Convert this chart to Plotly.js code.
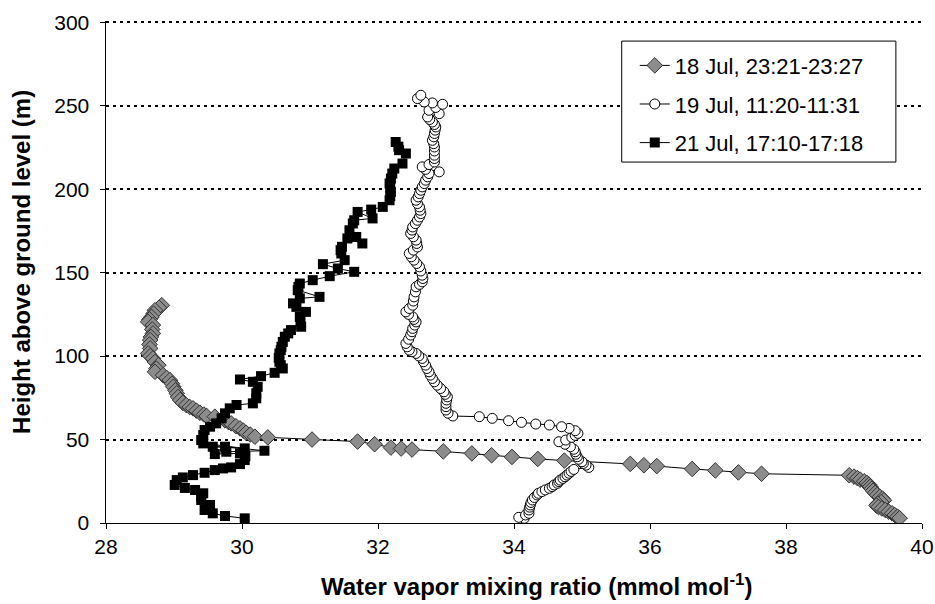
<!DOCTYPE html>
<html>
<head>
<meta charset="utf-8">
<script src="https://cdn.plot.ly/plotly-3.0.1.min.js"></script>
<style>
  html, body { margin: 0; padding: 0; background: #fff; }
  #chart { width: 935px; height: 604px; }
</style>
</head>
<body>
<div id="chart"></div>
<script>
// Profile 1: 18 Jul, 23:21-23:27 (height in m, mixing ratio in mmol/mol)
const height1 = [130.5, 129.0, 127.5, 125.5, 123.5, 122.0, 120.5, 118.6, 116.0, 113.6, 111.5, 109.6, 107.0, 104.6, 101.6, 100.0, 98.6, 96.5, 94.6, 92.5, 90.6, 88.6, 87.0, 85.6, 83.5, 81.6, 79.5, 77.7, 75.5, 73.7, 72.0, 70.7, 69.5, 68.7, 67.3, 66.1, 65.0, 64.1, 63.7, 61.5, 60.5, 59.7, 58.0, 56.7, 55.3, 54.1, 53.0, 51.7, 51.3, 50.0, 48.8, 47.2, 45.2, 44.6, 44.0, 42.9, 41.7, 40.6, 39.6, 38.4, 37.4, 35.4, 34.6, 34.1, 32.4, 31.5, 30.3, 29.5, 28.6, 27.8, 26.9, 26.0, 25.0, 24.0, 23.0, 21.8, 20.5, 19.3, 18.0, 16.8, 15.7, 14.6, 13.6, 12.5, 11.5, 10.5, 9.6, 8.7, 7.8, 6.8, 5.8, 4.8, 3.8, 2.9];
const ratio1 = [28.82, 28.78, 28.72, 28.70, 28.67, 28.64, 28.62, 28.69, 28.68, 28.69, 28.66, 28.65, 28.64, 28.65, 28.62, 28.65, 28.69, 28.72, 28.77, 28.74, 28.72, 28.84, 28.89, 28.94, 28.97, 28.99, 29.02, 29.04, 29.06, 29.09, 29.13, 29.18, 29.23, 29.28, 29.33, 29.38, 29.44, 29.48, 29.60, 29.75, 29.80, 29.84, 29.91, 29.97, 30.02, 30.06, 30.12, 30.19, 30.38, 31.03, 31.70, 31.95, 32.19, 32.34, 32.50, 32.96, 33.38, 33.67, 33.97, 34.35, 34.74, 35.71, 35.91, 36.10, 36.62, 36.96, 37.30, 37.64, 38.93, 39.00, 39.05, 39.09, 39.15, 39.19, 39.22, 39.24, 39.26, 39.28, 39.31, 39.34, 39.38, 39.42, 39.44, 39.40, 39.35, 39.33, 39.36, 39.41, 39.46, 39.51, 39.56, 39.60, 39.64, 39.67];

// Profile 2: 19 Jul, 11:20-11:31
const height2 = [2.8, 3.4, 4.8, 5.8, 7.8, 9.5, 10.8, 12.3, 13.8, 15.3, 16.8, 17.8, 18.8, 19.8, 20.8, 21.8, 22.8, 23.8, 24.8, 25.7, 26.7, 27.7, 28.7, 29.8, 30.9, 32.1, 33.3, 34.7, 35.7, 36.7, 38.2, 39.7, 41.2, 42.7, 44.2, 45.7, 47.2, 48.7, 49.7, 51.3, 52.5, 53.7, 55.3, 56.7, 57.7, 58.7, 59.3, 60.3, 61.3, 62.7, 63.7, 64.1, 65.8, 67.7, 69.7, 71.7, 73.7, 75.6, 77.1, 78.6, 80.6, 82.6, 84.6, 86.6, 88.6, 90.6, 92.6, 94.6, 96.6, 98.6, 100.1, 101.6, 102.6, 103.6, 105.6, 107.6, 110.1, 112.6, 114.6, 116.6, 118.6, 120.5, 122.0, 123.5, 125.0, 126.5, 128.5, 130.5, 133.0, 135.5, 138.5, 141.5, 143.0, 144.5, 146.5, 148.5, 151.0, 153.5, 155.5, 157.5, 159.5, 161.5, 163.5, 165.4, 167.5, 169.5, 171.5, 173.5, 175.5, 177.4, 179.4, 181.4, 183.4, 185.4, 187.4, 189.4, 191.4, 193.4, 195.4, 197.4, 199.4, 201.4, 203.4, 205.4, 207.4, 209.4, 210.4, 211.9, 213.4, 214.8, 216.3, 218.4, 220.4, 222.9, 225.3, 227.3, 229.3, 231.4, 233.4, 235.4, 237.3, 238.8, 240.3, 241.8, 243.3, 245.3, 247.3, 249.0, 250.9, 251.7, 252.3, 254.3, 256.3];
const ratio2 = [34.15, 34.07, 34.17, 34.22, 34.22, 34.23, 34.24, 34.25, 34.27, 34.30, 34.34, 34.36, 34.41, 34.46, 34.52, 34.56, 34.59, 34.64, 34.66, 34.68, 34.72, 34.75, 34.78, 34.81, 34.84, 34.88, 35.10, 35.06, 35.02, 35.00, 34.95, 34.93, 34.91, 34.90, 34.88, 34.83, 34.75, 34.66, 34.76, 34.85, 34.90, 34.94, 34.90, 34.81, 34.70, 34.52, 34.32, 34.11, 33.92, 33.68, 33.49, 33.10, 33.03, 33.00, 33.00, 33.00, 33.01, 33.02, 32.99, 32.97, 32.92, 32.87, 32.83, 32.80, 32.77, 32.75, 32.72, 32.70, 32.67, 32.65, 32.60, 32.56, 32.50, 32.46, 32.43, 32.41, 32.45, 32.48, 32.50, 32.51, 32.54, 32.56, 32.53, 32.51, 32.45, 32.41, 32.46, 32.51, 32.52, 32.53, 32.55, 32.56, 32.61, 32.65, 32.66, 32.65, 32.63, 32.61, 32.57, 32.53, 32.49, 32.46, 32.52, 32.58, 32.57, 32.56, 32.52, 32.48, 32.50, 32.51, 32.55, 32.58, 32.61, 32.63, 32.62, 32.61, 32.58, 32.56, 32.59, 32.61, 32.63, 32.65, 32.68, 32.70, 32.73, 32.75, 32.90, 32.70, 32.65, 32.75, 32.83, 32.83, 32.83, 32.83, 32.83, 32.82, 32.80, 32.82, 32.83, 32.84, 32.85, 32.83, 32.80, 32.76, 32.73, 32.90, 32.75, 32.85, 32.95, 32.80, 32.68, 32.58, 32.63];

// Profile 3: 21 Jul, 17:10-17:18
const height3 = [2.8, 4.2, 5.8, 7.8, 10.8, 13.8, 15.8, 17.8, 19.8, 21.0, 22.8, 25.7, 27.3, 28.7, 30.1, 31.7, 32.7, 33.3, 35.3, 37.7, 40.1, 41.7, 41.3, 42.7, 43.3, 45.7, 45.7, 44.7, 47.7, 49.7, 52.7, 55.7, 57.7, 59.7, 62.7, 65.7, 68.7, 70.7, 71.7, 74.7, 77.7, 81.6, 84.6, 86.0, 88.0, 90.0, 92.6, 94.6, 96.6, 99.0, 101.6, 103.6, 105.6, 108.5, 111.6, 113.6, 115.6, 117.6, 120.5, 123.5, 126.5, 129.5, 131.6, 134.6, 135.5, 139.5, 141.5, 143.5, 145.5, 147.9, 150.5, 152.5, 155.1, 157.5, 161.5, 163.5, 165.5, 170.5, 167.5, 171.4, 175.4, 179.5, 181.4, 182.5, 186.4, 187.8, 189.4, 193.4, 195.9, 198.4, 200.9, 203.4, 206.4, 209.4, 212.4, 215.4, 221.4, 223.4, 225.5, 228.3];
const ratio3 = [30.04, 29.75, 29.57, 29.45, 29.53, 29.40, 29.40, 29.43, 29.31, 29.16, 29.01, 29.04, 29.13, 29.28, 29.45, 29.60, 29.72, 29.84, 29.97, 30.04, 30.05, 29.97, 29.60, 29.77, 30.33, 29.75, 29.57, 30.04, 29.43, 29.40, 29.43, 29.45, 29.53, 29.62, 29.70, 29.75, 29.82, 29.92, 30.16, 30.21, 30.21, 30.23, 30.16, 29.97, 30.28, 30.48, 30.60, 30.57, 30.55, 30.54, 30.55, 30.57, 30.58, 30.60, 30.63, 30.68, 30.72, 30.87, 30.86, 30.85, 30.94, 30.80, 30.75, 30.85, 31.14, 30.82, 30.83, 30.85, 31.04, 31.29, 31.65, 31.41, 31.19, 31.51, 31.46, 31.45, 31.47, 31.55, 31.77, 31.68, 31.58, 31.63, 31.65, 31.92, 31.70, 31.90, 32.07, 32.17, 32.18, 32.19, 32.18, 32.17, 32.19, 32.21, 32.24, 32.36, 32.41, 32.31, 32.30, 32.26];

const seriesNames = ['18 Jul, 23:21-23:27', '19 Jul, 11:20-11:31', '21 Jul, 17:10-17:18'];
const xTicks = [28, 30, 32, 34, 36, 38, 40];
const yTicks = [0, 50, 100, 150, 200, 250, 300];
const xTitle = 'Water vapor mixing ratio (mmol mol<sup>-1</sup>)';
const yTitle = 'Height above ground level (m)';

const FONT = '"Liberation Sans", Arial, Helvetica, sans-serif';
const lineStyle = { color: '#000', width: 1 };

const traces = [
  {
    x: ratio1, y: height1, name: seriesNames[0], legendgroup: 'p1', type: 'scatter', mode: 'lines+markers',
    line: lineStyle,
    marker: { symbol: 'diamond', size: 12, color: '#8c8c8c', line: { color: '#333', width: 1 } }
  },
  {
    x: ratio2, y: height2, name: seriesNames[1], legendgroup: 'p2', type: 'scatter', mode: 'lines+markers',
    line: lineStyle,
    marker: { symbol: 'circle', size: 10, color: '#fff', line: { color: '#000', width: 1 } }
  },
  {
    x: ratio3, y: height3, name: seriesNames[2], legendgroup: 'p3', type: 'scatter', mode: 'lines+markers',
    line: lineStyle,
    marker: { symbol: 'square', size: 10, color: '#000', line: { color: '#000', width: 0 } }
  }
];

const layout = {
  width: 935, height: 604,
  margin: { l: 106, r: 13, t: 21, b: 81 },
  paper_bgcolor: '#fff', plot_bgcolor: '#fff',
  font: { family: FONT, size: 22, color: '#000' },
  showlegend: true,
  legend: {
    x: 0.648, y: 0.953, xanchor: 'left', yanchor: 'top',
    bgcolor: 'rgba(0,0,0,0)', borderwidth: 0,
    font: { family: FONT, size: 22, color: '#000' },
    tracegroupgap: 7, itemwidth: 30
  },
  // legend frame
  shapes: [{
    type: 'rect', xref: 'paper', yref: 'paper',
    x0: 0.632, x1: 0.968, y0: 0.719, y1: 0.960,
    line: { color: '#000', width: 1 }, fillcolor: '#fff', layer: 'above'
  }],
  xaxis: {
    range: [28, 40], tickvals: xTicks, ticktext: xTicks.map(String),
    showline: true, linecolor: '#000', linewidth: 1,
    ticks: 'outside', ticklen: 5, tickcolor: '#000',
    showgrid: false, zeroline: false,
    tickfont: { family: FONT, size: 21 }
  },
  yaxis: {
    range: [0, 300.8], tickvals: yTicks, ticktext: yTicks.map(String),
    showline: true, linecolor: '#000', linewidth: 1.5,
    ticks: 'outside', ticklen: 5, tickcolor: '#000', ticklabelstandoff: 6,
    showgrid: true, gridcolor: '#000', gridwidth: 2, griddash: '3px,4px',
    zeroline: false,
    tickfont: { family: FONT, size: 21 }
  },
  annotations: [
    {
      text: xTitle, xref: 'paper', yref: 'paper', x: 0.527, y: -0.124,
      xanchor: 'center', yanchor: 'middle', showarrow: false,
      font: { family: FONT, size: 24, weight: 'bold', color: '#000' }
    },
    {
      text: yTitle, xref: 'paper', yref: 'paper', x: -0.103, y: 0.52,
      xanchor: 'center', yanchor: 'middle', showarrow: false, textangle: -90,
      font: { family: FONT, size: 24, weight: 'bold', color: '#000' }
    }
  ]
};

Plotly.newPlot('chart', traces, layout, { staticPlot: true, displayModeBar: false });
</script>
</body>
</html>
